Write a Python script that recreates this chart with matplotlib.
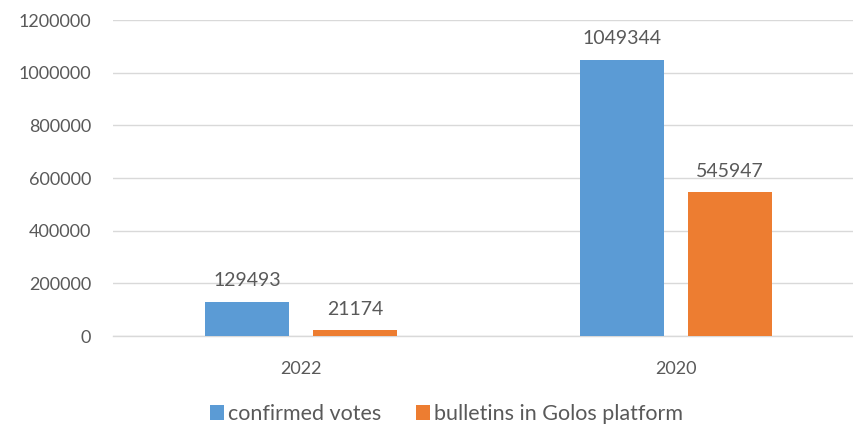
import matplotlib.pyplot as plt
import numpy as np

years = ['2022', '2020']
confirmed = [129493, 1049344]
bulletins = [21174, 545947]
yticks = [0, 200000, 400000, 600000, 800000, 1000000, 1200000]

plt.rcParams['font.family'] = ['Lato', 'DejaVu Sans']
grey = '#595959'

fig = plt.figure(figsize=(8.54, 4.25), dpi=100)
ax = fig.add_axes([0.1329, 0.2094, 0.878, 0.7435])

x = np.arange(len(years))
w = 0.224
off = 0.144
b1 = ax.bar(x - off, confirmed, w, color='#5B9BD5', label='confirmed votes', zorder=3)
b2 = ax.bar(x + off, bulletins, w, color='#ED7D31', label='bulletins in Golos platform', zorder=3)

for bars in (b1, b2):
    for r in bars:
        h = r.get_height()
        ax.annotate('{:d}'.format(int(h)), xy=(r.get_x() + r.get_width() / 2, h),
                    xytext=(0, 9), textcoords='offset points',
                    ha='center', va='bottom', fontsize=14, color=grey)

ax.set_xlim(-0.5, 1.5)
ax.set_ylim(0, 1200000)
ax.set_yticks(yticks)
ax.set_yticklabels([str(v) for v in yticks])
ax.set_xticks(x)
ax.set_xticklabels(years)
ax.tick_params(axis='both', length=0, labelsize=13, colors=grey)
ax.tick_params(axis='y', pad=16)
ax.tick_params(axis='x', pad=18)
ax.grid(axis='y', color='#D9D9D9', linewidth=1, zorder=0)
ax.axhline(0, color='#D9D9D9', linewidth=1, zorder=1, clip_on=False)
for s in ax.spines.values():
    s.set_visible(False)

fig.legend(loc='center', bbox_to_anchor=(0.523, 0.026), ncol=2, frameon=False,
           fontsize=15.5, labelcolor=grey, handlelength=0.65, handleheight=0.65,
           handletextpad=0.2, columnspacing=1.6, borderpad=0)

fig.savefig('out.png', dpi=100)
